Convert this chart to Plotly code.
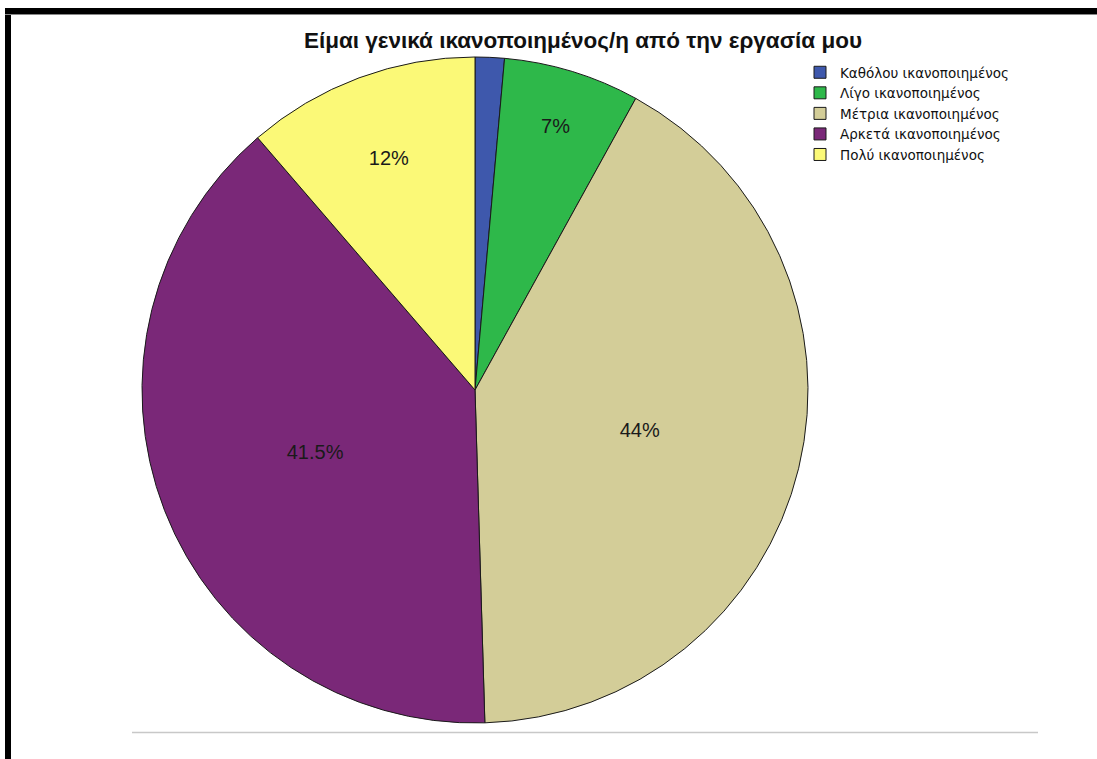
import plotly.graph_objects as go

# Survey responses: "I am generally satisfied with my job"
categories = [
    "Καθόλου ικανοποιημένος",
    "Λίγο ικανοποιημένος",
    "Μέτρια ικανοποιημένος",
    "Αρκετά ικανοποιημένος",
    "Πολύ ικανοποιημένος",
]
percentages = [1.5, 7, 44, 41.5, 12]
show_label = [False, True, True, True, True]

colors = ["#3e58ac", "#2eb84a", "#d3cd98", "#7a2878", "#fbf977"]

W, H = 1097, 759

fig = go.Figure(
    go.Pie(
        labels=categories,
        values=percentages,
        sort=False,
        direction="clockwise",
        rotation=0,
        marker=dict(colors=colors, line=dict(color="#1a1a1a", width=1)),
        texttemplate=["%{value}%" if s else "" for s in show_label],
        textposition="inside",
        insidetextorientation="horizontal",
        textfont=dict(family="Liberation Sans, Arial, sans-serif", size=20, color="#1a1a1a"),
        hoverinfo="label+percent",
        domain=dict(x=[142 / W, 808 / W], y=[1 - 723 / H, 1 - 57 / H]),
    )
)

# Frame edges and the baseline rule under the chart
shapes = [
    dict(type="rect", xref="paper", yref="paper", x0=5 / W, x1=11 / W, y0=0, y1=1 - 8 / H,
         fillcolor="#000000", line=dict(width=0)),
    dict(type="rect", xref="paper", yref="paper", x0=5 / W, x1=1, y0=1 - 14 / H, y1=1 - 8 / H,
         fillcolor="#000000", line=dict(width=0)),
    dict(type="line", xref="paper", yref="paper", x0=5 / W, x1=1, y0=1 - 14.5 / H, y1=1 - 14.5 / H,
         line=dict(color="#888888", width=1)),
    dict(type="line", xref="paper", yref="paper", x0=132 / W, x1=1038 / W, y0=1 - 732.5 / H, y1=1 - 732.5 / H,
         line=dict(color="#c8c8c8", width=1.5)),
]

fig.update_layout(
    width=W,
    height=H,
    margin=dict(l=0, r=0, t=0, b=0),
    paper_bgcolor="white",
    plot_bgcolor="white",
    title=dict(
        text="<b>Είμαι γενικά ικανοποιημένος/η από την εργασία μου</b>",
        x=583 / W,
        xanchor="center",
        y=1 - 40 / H,
        yanchor="middle",
        font=dict(family="Liberation Sans, Arial, sans-serif", size=22.5, color="#111111"),
    ),
    legend=dict(
        x=800 / W,
        y=1 - 57 / H,
        xanchor="left",
        yanchor="top",
        font=dict(family="DejaVu Sans, Verdana, sans-serif", size=13.5, color="#111111"),
        itemwidth=30,
        tracegroupgap=0,
        bgcolor="rgba(0,0,0,0)",
    ),
    shapes=shapes,
)

fig.write_html("out.html")
